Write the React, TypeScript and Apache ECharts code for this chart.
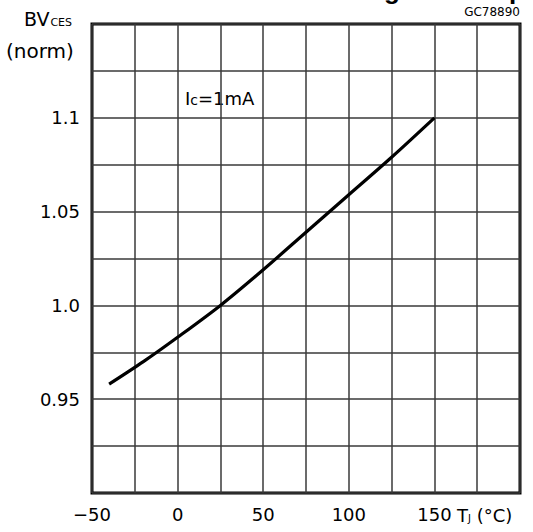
import React, { useEffect, useRef } from "react";
import * as echarts from "echarts";

const tempC = [-40, -20, 0, 25, 50, 75, 100, 125, 150];
const bvNorm = [0.958, 0.970, 0.983, 1.0, 1.019, 1.039, 1.059, 1.079, 1.1];
const xTickValues = [-50, 0, 50, 100, 150];
const xTickLabels = ["\u221250", "0", "50", "100", "150"];
const yTickValues = [0.95, 1.0, 1.05, 1.1];
const yTickLabels = ["0.95", "1.0", "1.05", "1.1"];

const FONT = "DejaVu Sans";

export default function App() {
  const ref = useRef<HTMLDivElement>(null);
  useEffect(() => {
    if (!ref.current) return;
    const chart = echarts.init(ref.current, null, { renderer: "svg" });
    const findLabel = (vals: number[], labels: string[], v: number) => {
      for (let i = 0; i < vals.length; i++) {
        if (Math.abs(vals[i] - v) < 1e-6) return labels[i];
      }
      return "";
    };
    chart.setOption({
      animation: false,
      backgroundColor: "#ffffff",
      grid: {
        left: 92,
        right: 13,
        top: 24,
        bottom: 39,
        show: true,
        borderColor: "#000",
        borderWidth: 3,
        containLabel: false,
      },
      xAxis: {
        type: "value",
        min: -50,
        max: 200,
        interval: 25,
        axisLine: { show: false },
        axisTick: { show: false },
        splitLine: { show: true, lineStyle: { color: "#3a3a3a", width: 1.5 } },
        axisLabel: {
          fontFamily: FONT,
          fontSize: 18,
          color: "#000",
          margin: 12,
          showMaxLabel: true,
          formatter: (v: number) => findLabel(xTickValues, xTickLabels, v),
        },
      },
      yAxis: {
        type: "value",
        min: 0.9,
        max: 1.15,
        interval: 0.025,
        axisLine: { show: false },
        axisTick: { show: false },
        splitLine: { show: true, lineStyle: { color: "#3a3a3a", width: 1.5 } },
        axisLabel: {
          fontFamily: FONT,
          fontSize: 18,
          color: "#000",
          margin: 12,
          formatter: (v: number) => findLabel(yTickValues, yTickLabels, v),
        },
      },
      series: [
        {
          type: "line",
          data: tempC.map((t, i) => [t, bvNorm[i]]),
          showSymbol: false,
          smooth: 0.3,
          lineStyle: { color: "#000", width: 3.2 },
        },
      ],
      graphic: [
        {
          type: "text",
          right: 8,
          top: -23,
          style: {
            text: "Breakdown Voltage vs Temp",
            font: "bold 26px 'Liberation Sans'",
            fill: "#000",
          },
        },
        {
          type: "text",
          x: 520,
          y: 12,
          style: {
            text: "GC78890",
            font: "12px 'DejaVu Sans'",
            fill: "#000",
            align: "right",
            verticalAlign: "middle",
          },
        },
        {
          type: "text",
          x: 24,
          y: 19,
          style: {
            text: "{a|BV}{b|CES}",
            verticalAlign: "middle",
            rich: {
              a: { fontFamily: FONT, fontSize: 19, fill: "#000" },
              b: { fontFamily: FONT, fontSize: 11, fill: "#000", padding: [6, 0, 0, 1] },
            },
          },
        },
        {
          type: "text",
          x: 6,
          y: 51,
          style: {
            text: "(norm)",
            font: "20px 'DejaVu Sans'",
            fill: "#000",
            verticalAlign: "middle",
          },
        },
        {
          type: "text",
          x: 185,
          y: 98,
          style: {
            text: "{a|I}{b|c}{a|=1mA}",
            verticalAlign: "middle",
            rich: {
              a: { fontFamily: FONT, fontSize: 18, fill: "#000" },
              b: { fontFamily: FONT, fontSize: 14, fill: "#000", padding: [3, 0, 0, 0] },
            },
          },
        },
        {
          type: "text",
          x: 457,
          y: 515,
          style: {
            text: "{a|T}{b|J}{a| (°C)}",
            verticalAlign: "middle",
            rich: {
              a: { fontFamily: FONT, fontSize: 18, fill: "#000" },
              b: { fontFamily: FONT, fontSize: 10, fill: "#000", padding: [6, 0, 0, 0] },
            },
          },
        },
      ],
    });
    return () => chart.dispose();
  }, []);
  return (
    <div
      ref={ref}
      style={{ position: "fixed", left: 0, top: 0, width: 533, height: 532, background: "#fff" }}
    />
  );
}
